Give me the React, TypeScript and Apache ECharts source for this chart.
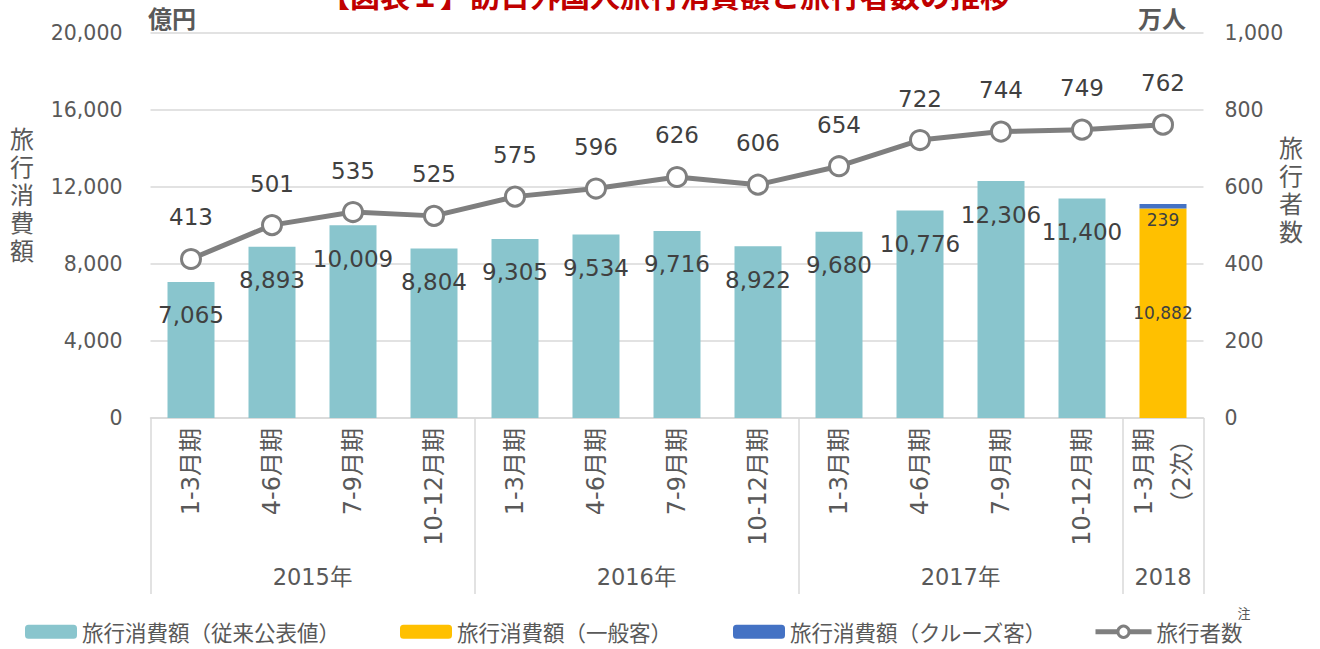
import React, { useEffect, useRef } from 'react';
import * as echarts from 'echarts';

const categories = [
  '1-3月期', '4-6月期', '7-9月期', '10-12月期',
  '1-3月期', '4-6月期', '7-9月期', '10-12月期',
  '1-3月期', '4-6月期', '7-9月期', '10-12月期',
  '1-3月期\n（2次）',
];
const years = ['2015年', '2016年', '2017年', '2018'];
const yearSpans = [4, 4, 4, 1];

const spendingPublished = [7065, 8893, 10009, 8804, 9305, 9534, 9716, 8922, 9680, 10776, 12306, 11400, null];
const spendingGeneral = [null, null, null, null, null, null, null, null, null, null, null, null, 10882];
const spendingCruise = [null, null, null, null, null, null, null, null, null, null, null, null, 239];
const spendingTotal = [null, null, null, null, null, null, null, null, null, null, null, null, 11121];
const visitors = [413, 501, 535, 525, 575, 596, 626, 606, 654, 722, 744, 749, 762];

const seriesNames = ['旅行消費額（従来公表値）', '旅行消費額（一般客）', '旅行消費額（クルーズ客）', '旅行者数'];
const title = '【図表１】訪日外国人旅行消費額と旅行者数の推移';

const FONT = '"DejaVu Sans", "Noto Sans CJK JP", sans-serif';
const CJK = '"Noto Sans CJK JP", sans-serif';
const GRAY = '#595959';
const LABEL = '#404040';
const GRID = '#d9d9d9';
const LINE = '#7f7f7f';

const fmt = (v: number) => v.toLocaleString('en-US');

export default function App() {
  const ref = useRef<HTMLDivElement>(null);
  useEffect(() => {
    if (!ref.current) return;
    const chart = echarts.init(ref.current, undefined, { renderer: 'svg' });

    const bounds: number[] = [0];
    yearSpans.forEach((s) => bounds.push(bounds[bounds.length - 1] + s));
    const centers = yearSpans.map((s, i) => bounds[i] + s / 2);

    const legendLefts = [20, 395, 728, 1088];
    const legends = seriesNames.map((name, i) => ({
      data: [name],
      left: legendLefts[i],
      top: 616,
      itemWidth: i === 3 ? 56 : 52,
      itemHeight: 14,
      textStyle: { fontSize: 21.5, color: GRAY, fontFamily: CJK },
      ...(i === 3
        ? {
            lineStyle: { width: 5, color: LINE },
            itemStyle: { color: '#fff', borderColor: LINE, borderWidth: 3 },
          }
        : {}),
    }));

    const option: any = {
      animation: false,
      textStyle: { fontFamily: FONT },
      grid: { left: 150.5, right: 116.5, top: 33, bottom: 231, containLabel: false },
      legend: legends,
      xAxis: [
        {
          type: 'category',
          data: categories,
          axisLine: { lineStyle: { color: GRID, width: 1.5 } },
          axisTick: { show: false },
          axisLabel: {
            rotate: 90,
            margin: 10,
            fontSize: 24,
            lineHeight: 38,
            color: GRAY,
            fontFamily: FONT,
            interval: 0,
          },
        },
        {
          type: 'value',
          position: 'bottom',
          min: 0,
          max: bounds[bounds.length - 1],
          axisLine: { show: false },
          splitLine: { show: false },
          axisTick: {
            show: true,
            customValues: bounds,
            length: 176,
            lineStyle: { color: GRID, width: 1.5 },
          },
          axisLabel: {
            customValues: centers,
            margin: 148,
            fontSize: 22.5,
            color: GRAY,
            fontFamily: FONT,
            formatter: (v: number) => {
              const i = centers.findIndex((c) => Math.abs(c - v) < 1e-6);
              return i >= 0 ? years[i] : '';
            },
          },
        },
      ],
      yAxis: [
        {
          type: 'value',
          min: 0,
          max: 20000,
          interval: 4000,
          axisLine: { show: false },
          axisTick: { show: false },
          splitLine: { lineStyle: { color: GRID, width: 1.5 } },
          axisLabel: { fontSize: 20.5, color: GRAY, margin: 28, formatter: (v: number) => fmt(v) },
        },
        {
          type: 'value',
          min: 0,
          max: 1000,
          interval: 200,
          axisLine: { show: false },
          axisTick: { show: false },
          splitLine: { show: false },
          axisLabel: { fontSize: 20.5, color: GRAY, margin: 21, formatter: (v: number) => fmt(v) },
        },
      ],
      series: [
        {
          name: seriesNames[0],
          type: 'bar',
          stack: 'spend',
          barWidth: 47,
          data: spendingPublished,
          itemStyle: { color: '#89C5CD' },
          label: {
            show: true,
            position: 'insideTop',
            distance: 22,
            fontSize: 23,
            color: LABEL,
            formatter: (p: any) => fmt(p.value),
          },
        },
        {
          name: seriesNames[1],
          type: 'bar',
          stack: 'spend',
          barWidth: 47,
          data: spendingGeneral,
          itemStyle: { color: '#FFC000' },
          label: {
            show: true,
            position: 'inside',
            fontSize: 17,
            color: LABEL,
            formatter: (p: any) => fmt(p.value),
          },
        },
        {
          name: seriesNames[2],
          type: 'bar',
          stack: 'spend',
          barWidth: 47,
          data: spendingCruise,
          itemStyle: { color: '#4472C4' },
          label: {
            show: true,
            position: 'bottom',
            distance: 3,
            fontSize: 17,
            color: LABEL,
            formatter: (p: any) => fmt(p.value),
          },
        },
        {
          name: 'total',
          type: 'scatter',
          data: spendingTotal,
          symbolSize: 0,
          silent: true,
          itemStyle: { opacity: 0 },
          label: {
            show: true,
            position: 'top',
            distance: 9,
            fontSize: 23,
            color: LABEL,
            formatter: (p: any) => fmt(p.value),
          },
        },
        {
          name: seriesNames[3],
          type: 'line',
          yAxisIndex: 1,
          data: visitors,
          symbol: 'circle',
          symbolSize: 19,
          lineStyle: { color: LINE, width: 5 },
          itemStyle: { color: '#ffffff', borderColor: LINE, borderWidth: 3 },
          label: {
            show: true,
            position: 'top',
            distance: 19,
            fontSize: 23,
            color: LABEL,
          },
        },
      ],
      graphic: [
        {
          type: 'text',
          x: 665,
          y: -6,
          style: {
            text: title,
            fill: '#C00000',
            font: `bold 30px ${CJK}`,
            textAlign: 'center',
            textVerticalAlign: 'middle',
          },
        },
        {
          type: 'text',
          x: 148,
          y: 17,
          style: { text: '億円', fill: GRAY, font: `bold 24px ${CJK}`, textAlign: 'left', textVerticalAlign: 'middle' },
        },
        {
          type: 'text',
          x: 1186,
          y: 17,
          style: { text: '万人', fill: GRAY, font: `bold 24px ${CJK}`, textAlign: 'right', textVerticalAlign: 'middle' },
        },
        {
          type: 'text',
          x: 22,
          y: 193,
          style: {
            text: '旅\n行\n消\n費\n額',
            fill: GRAY,
            font: `24px ${CJK}`,
            lineHeight: 28,
            textAlign: 'center',
            textVerticalAlign: 'middle',
          },
        },
        {
          type: 'text',
          x: 1291,
          y: 188,
          style: {
            text: '旅\n行\n者\n数',
            fill: GRAY,
            font: `24px ${CJK}`,
            lineHeight: 28,
            textAlign: 'center',
            textVerticalAlign: 'middle',
          },
        },
        {
          type: 'text',
          x: 1244,
          y: 612,
          style: { text: '注', fill: GRAY, font: `13px ${CJK}`, textAlign: 'center', textVerticalAlign: 'middle' },
        },
      ],
    };
    chart.setOption(option);
    return () => chart.dispose();
  }, []);

  return (
    <div
      ref={ref}
      style={{ position: 'absolute', left: 0, top: 0, width: 1320, height: 649, background: '#fff' }}
    />
  );
}
